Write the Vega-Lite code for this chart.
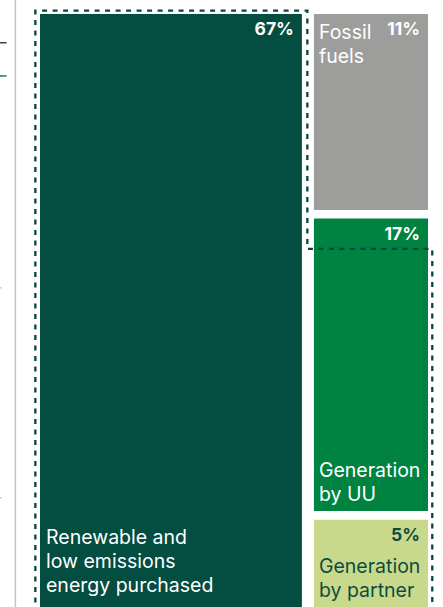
{
  "$schema": "https://vega.github.io/schema/vega-lite/v6.json",
  "width": 388,
  "height": 593,
  "autosize": {"type": "none"},
  "padding": {"left": 40, "top": 14, "right": 15, "bottom": 0},
  "background": "white",
  "config": {"view": {"stroke": null}, "text": {"font": "Inter"}},
  "resolve": {"scale": {"color": "independent", "strokeWidth": "independent"}},
  "datasets": {
    "blocks": [
      {"cat": "Renewable", "name": "Renewable and\nlow emissions\nenergy purchased", "lines": 3, "pos": "bottom", "share": 0.67, "x0": 0, "x1": 67.5, "y0": 0, "y1": 100},
      {"cat": "Fossil", "name": "Fossil\nfuels", "lines": 2, "pos": "top", "share": 0.11, "x0": 70.6, "x1": 100, "y0": 0, "y1": 33.05},
      {"cat": "UU", "name": "Generation\nby UU", "lines": 2, "pos": "bottom", "share": 0.17, "x0": 70.6, "x1": 100, "y0": 34.5, "y1": 83.8},
      {"cat": "Partner", "name": "Generation\nby partner", "lines": 2, "pos": "bottom", "share": 0.05, "x0": 70.6, "x1": 100, "y0": 85.3, "y1": 100}
    ],
    "outline": [
      {"i": 1, "x": -1.2, "y": 101},
      {"i": 2, "x": -1.2, "y": -0.56},
      {"i": 3, "x": 68.9, "y": -0.56},
      {"i": 4, "x": 68.9, "y": 39.6},
      {"i": 5, "x": 101.1, "y": 39.6},
      {"i": 6, "x": 101.1, "y": 101}
    ],
    "marks": [
      {"kind": "axis", "x": -6.34, "x2": -6.34, "y": -3, "y2": 101},
      {"kind": "black", "x": -10.4, "x2": -8.6, "y": 4.85, "y2": 4.85},
      {"kind": "green", "x": -10.4, "x2": -8.6, "y": 10.45, "y2": 10.45},
      {"kind": "tick", "x": -10.4, "x2": -9.9, "y": 46.2, "y2": 46.2},
      {"kind": "tick", "x": -10.4, "x2": -9.9, "y": 81.6, "y2": 81.6}
    ]
  },
  "layer": [
    {
      "data": {"name": "blocks"},
      "mark": {"type": "rect", "clip": false},
      "encoding": {
        "x": {"field": "x0", "type": "quantitative", "scale": {"domain": [0, 100], "nice": false, "zero": false}, "axis": null},
        "x2": {"field": "x1"},
        "y": {"field": "y0", "type": "quantitative", "scale": {"domain": [0, 100], "nice": false, "zero": false, "reverse": true}, "axis": null},
        "y2": {"field": "y1"},
        "color": {"field": "cat", "type": "nominal", "legend": null,
          "scale": {"domain": ["Renewable", "Fossil", "UU", "Partner"], "range": ["#034d41", "#9d9d9c", "#008340", "#c9d98b"]}}
      }
    },
    {
      "data": {"name": "outline"},
      "mark": {"type": "line", "clip": false, "stroke": "#08463a", "strokeWidth": 2.3, "strokeDash": [5, 5.5]},
      "encoding": {
        "x": {"field": "x", "type": "quantitative"},
        "y": {"field": "y", "type": "quantitative"},
        "order": {"field": "i", "type": "quantitative"}
      }
    },
    {
      "data": {"name": "marks"},
      "mark": {"type": "rule", "clip": false},
      "encoding": {
        "x": {"field": "x", "type": "quantitative"},
        "x2": {"field": "x2"},
        "y": {"field": "y", "type": "quantitative"},
        "y2": {"field": "y2"},
        "color": {"field": "kind", "type": "nominal", "legend": null,
          "scale": {"domain": ["axis", "black", "green", "tick"], "range": ["#c4c4c4", "#333333", "#0c5a4a", "#bbbbbb"]}},
        "strokeWidth": {"field": "kind", "type": "nominal", "legend": null,
          "scale": {"domain": ["axis", "black", "green", "tick"], "range": [1.5, 1.2, 2.2, 1]}}
      }
    },
    {
      "data": {"name": "blocks"},
      "mark": {"type": "text", "clip": false, "align": "right", "baseline": "alphabetic", "dx": -8, "dy": 21, "fontSize": 17.5, "fontWeight": "bold"},
      "encoding": {
        "x": {"field": "x1", "type": "quantitative"},
        "y": {"field": "y0", "type": "quantitative"},
        "text": {"field": "share", "type": "quantitative", "format": ".0%"},
        "color": {"field": "cat", "type": "nominal", "legend": null,
          "scale": {"domain": ["Renewable", "Fossil", "UU", "Partner"], "range": ["#ffffff", "#ffffff", "#ffffff", "#0c4d40"]}}
      }
    },
    {
      "data": {"name": "blocks"},
      "transform": [{"filter": "datum.pos === 'top'"}],
      "mark": {"type": "text", "clip": false, "align": "left", "baseline": "alphabetic", "dx": 5, "dy": 25, "fontSize": 19.5, "lineHeight": 24, "lineBreak": "\n"},
      "encoding": {
        "x": {"field": "x0", "type": "quantitative"},
        "y": {"field": "y0", "type": "quantitative"},
        "text": {"field": "name", "type": "nominal"},
        "color": {"value": "#ffffff"}
      }
    },
    {
      "data": {"name": "blocks"},
      "transform": [{"filter": "datum.pos === 'bottom' && datum.lines === 3"}],
      "mark": {"type": "text", "clip": false, "align": "left", "baseline": "alphabetic", "dx": 6, "dy": -63, "fontSize": 19.5, "lineHeight": 24, "lineBreak": "\n"},
      "encoding": {
        "x": {"field": "x0", "type": "quantitative"},
        "y": {"field": "y1", "type": "quantitative"},
        "text": {"field": "name", "type": "nominal"},
        "color": {"value": "#ffffff"}
      }
    },
    {
      "data": {"name": "blocks"},
      "transform": [{"filter": "datum.pos === 'bottom' && datum.lines === 2"}],
      "mark": {"type": "text", "clip": false, "align": "left", "baseline": "alphabetic", "dx": 5, "dy": -34, "fontSize": 19.5, "lineHeight": 24, "lineBreak": "\n"},
      "encoding": {
        "x": {"field": "x0", "type": "quantitative"},
        "y": {"field": "y1", "type": "quantitative"},
        "text": {"field": "name", "type": "nominal"},
        "color": {"field": "cat", "type": "nominal", "legend": null,
          "scale": {"domain": ["UU", "Partner"], "range": ["#ffffff", "#0c4d40"]}}
      }
    }
  ]
}
